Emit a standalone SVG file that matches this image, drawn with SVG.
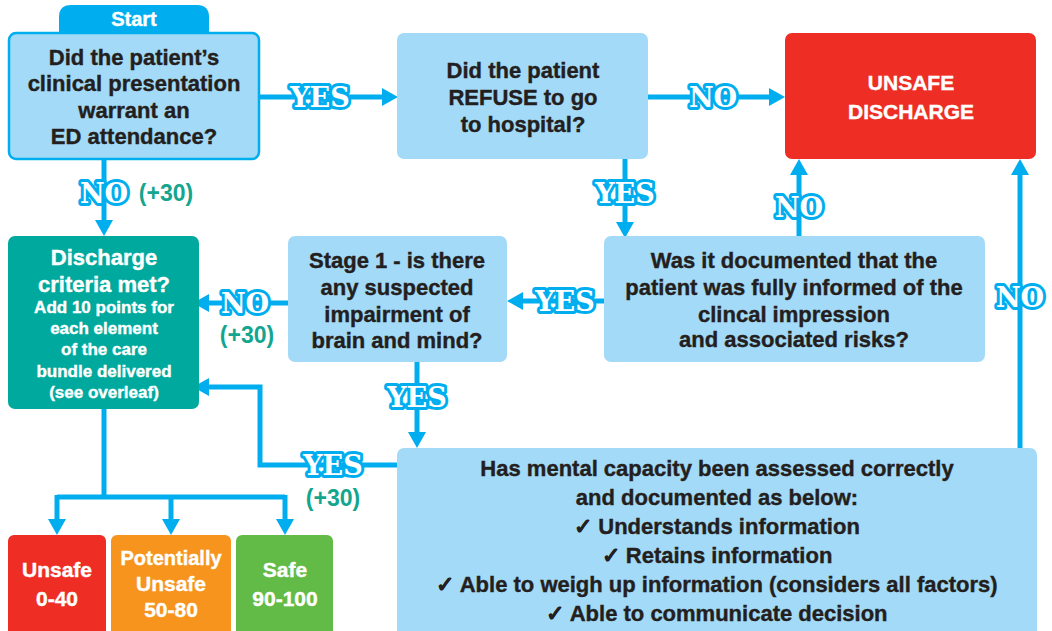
<svg xmlns="http://www.w3.org/2000/svg" width="1052" height="631" viewBox="0 0 1052 631">
<style>
.q{fill:#A3DAF7}
.t{font-family:"Liberation Sans",Arial,sans-serif;font-weight:bold;font-size:22px;fill:#231F20;stroke:#231F20;stroke-width:0.4;text-anchor:middle}
.w{fill:#FFFFFF;stroke:#FFFFFF}
.s17{font-size:17px}
.s20{font-size:20px}
.s21{font-size:21px}
.c{fill:none;stroke:#00AEEF;stroke-width:5}
.lb{font-family:"DejaVu Serif",serif;font-weight:bold;font-size:27px;fill:#FFFFFF;stroke:#00AEEF;stroke-width:6;paint-order:stroke;stroke-linejoin:round;text-anchor:middle}
.p{font-family:"Liberation Sans",Arial,sans-serif;font-weight:bold;font-size:23px;fill:#13A58E;text-anchor:middle}
</style>
<defs>
<marker id="ah" markerUnits="userSpaceOnUse" markerWidth="18" markerHeight="20" refX="6" refY="10" orient="auto">
<path d="M0,1 L16,10 L0,19 z" fill="#00AEEF"/>
</marker>
</defs>

<g id="connectors">
<path class="c" d="M260,97 H388" marker-end="url(#ah)"/>
<path class="c" d="M648,97 H775" marker-end="url(#ah)"/>
<path class="c" d="M625,159 V228" marker-end="url(#ah)"/>
<path class="c" d="M604,301 H517" marker-end="url(#ah)"/>
<path class="c" d="M288,303 H203" marker-end="url(#ah)"/>
<path class="c" d="M104,160 V226" marker-end="url(#ah)"/>
<path class="c" d="M799,236 V169" marker-end="url(#ah)"/>
<path class="c" d="M1020,448 V169" marker-end="url(#ah)"/>
<path class="c" d="M417,362 V438" marker-end="url(#ah)"/>
<path class="c" d="M397,465 H260 V387 H203" marker-end="url(#ah)"/>
<path class="c" d="M104,409 V497 M57,497 H285"/>
<path class="c" d="M57,495 V525" marker-end="url(#ah)"/>
<path class="c" d="M171,495 V525" marker-end="url(#ah)"/>
<path class="c" d="M285,495 V525" marker-end="url(#ah)"/>
<text class="lb" x="320" y="107">YES</text>
<text class="lb" x="713" y="107">NO</text>
<text class="lb" x="625" y="203">YES</text>
<text class="lb" x="799" y="217">NO</text>
<text class="lb" x="1020" y="307">NO</text>
<text class="lb" x="565" y="311">YES</text>
<text class="lb" x="245" y="313">NO</text>
<text class="p" x="247" y="343">(+30)</text>
<text class="lb" x="104" y="203">NO</text>
<text class="p" x="166" y="201">(+30)</text>
<text class="lb" x="417" y="407">YES</text>
<text class="lb" x="333" y="475">YES</text>
<text class="p" x="333" y="506">(+30)</text>
</g>

<g id="start">
<path d="M59,33 V17 Q59,5 71,5 H197 Q209,5 209,17 V33 z" fill="#00AEEF"/>
<text class="t w s20" x="134" y="26">Start</text>
<rect x="9" y="33" width="250" height="126" rx="7" fill="#A3DAF7" stroke="#00AEEF" stroke-width="2.5"/>
<text class="t" x="134" y="65">Did the patient’s</text>
<text class="t" x="134" y="91">clinical presentation</text>
<text class="t" x="134" y="118">warrant an</text>
<text class="t" x="134" y="144">ED attendance?</text>
</g>

<g id="refuse">
<rect class="q" x="397" y="33" width="251" height="126" rx="7"/>
<text class="t" x="523" y="78">Did the patient</text>
<text class="t" x="523" y="105">REFUSE to go</text>
<text class="t" x="523" y="132">to hospital?</text>
</g>

<g id="unsafe-discharge">
<rect x="785" y="33" width="251" height="126" rx="7" fill="#EE2E24"/>
<text class="t w s21" x="911" y="90">UNSAFE</text>
<text class="t w s21" x="911" y="119">DISCHARGE</text>
</g>

<g id="informed">
<rect class="q" x="604" y="236" width="381" height="126" rx="7"/>
<text class="t" x="794" y="268">Was it documented that the</text>
<text class="t" x="794" y="295">patient was fully informed of the</text>
<text class="t" x="794" y="322">clincal impression</text>
<text class="t" x="794" y="347">and associated risks?</text>
</g>

<g id="stage1">
<rect class="q" x="288" y="236" width="219" height="126" rx="7"/>
<text class="t" x="397" y="268">Stage 1 - is there</text>
<text class="t" x="397" y="295">any suspected</text>
<text class="t" x="397" y="322">impairment of</text>
<text class="t" x="397" y="348">brain and mind?</text>
</g>

<g id="discharge-criteria">
<rect x="8" y="236" width="191" height="173" rx="7" fill="#00A99D"/>
<text class="t w" x="104" y="265">Discharge</text>
<text class="t w" x="104" y="292">criteria met?</text>
<text class="t w s17" x="104" y="313">Add 10 points for</text>
<text class="t w s17" x="104" y="334">each element</text>
<text class="t w s17" x="104" y="355">of the care</text>
<text class="t w s17" x="104" y="377">bundle delivered</text>
<text class="t w s17" x="104" y="398">(see overleaf)</text>
</g>

<g id="mental-capacity">
<rect class="q" x="397" y="448" width="640" height="195" rx="7"/>
<text class="t" x="717" y="476">Has mental capacity been assessed correctly</text>
<text class="t" x="717" y="505">and documented as below:</text>
<text class="t" x="717" y="534">✓ Understands information</text>
<text class="t" x="717" y="563">✓ Retains information</text>
<text class="t" x="717" y="592">✓ Able to weigh up information (considers all factors)</text>
<text class="t" x="717" y="621">✓ Able to communicate decision</text>
</g>

<g id="outcome-unsafe">
<rect x="8" y="535" width="98" height="110" rx="6" fill="#EE2E24"/>
<text class="t w s21" x="57" y="577">Unsafe</text>
<text class="t w s21" x="57" y="606">0-40</text>
</g>
<g id="outcome-potentially-unsafe">
<rect x="111" y="535" width="120" height="110" rx="6" fill="#F7941D"/>
<text class="t w s20" x="171" y="565">Potentially</text>
<text class="t w s21" x="171" y="591">Unsafe</text>
<text class="t w s21" x="171" y="617">50-80</text>
</g>
<g id="outcome-safe">
<rect x="236" y="535" width="97" height="110" rx="6" fill="#62BB46"/>
<text class="t w s21" x="285" y="577">Safe</text>
<text class="t w s21" x="285" y="606">90-100</text>
</g>
</svg>
